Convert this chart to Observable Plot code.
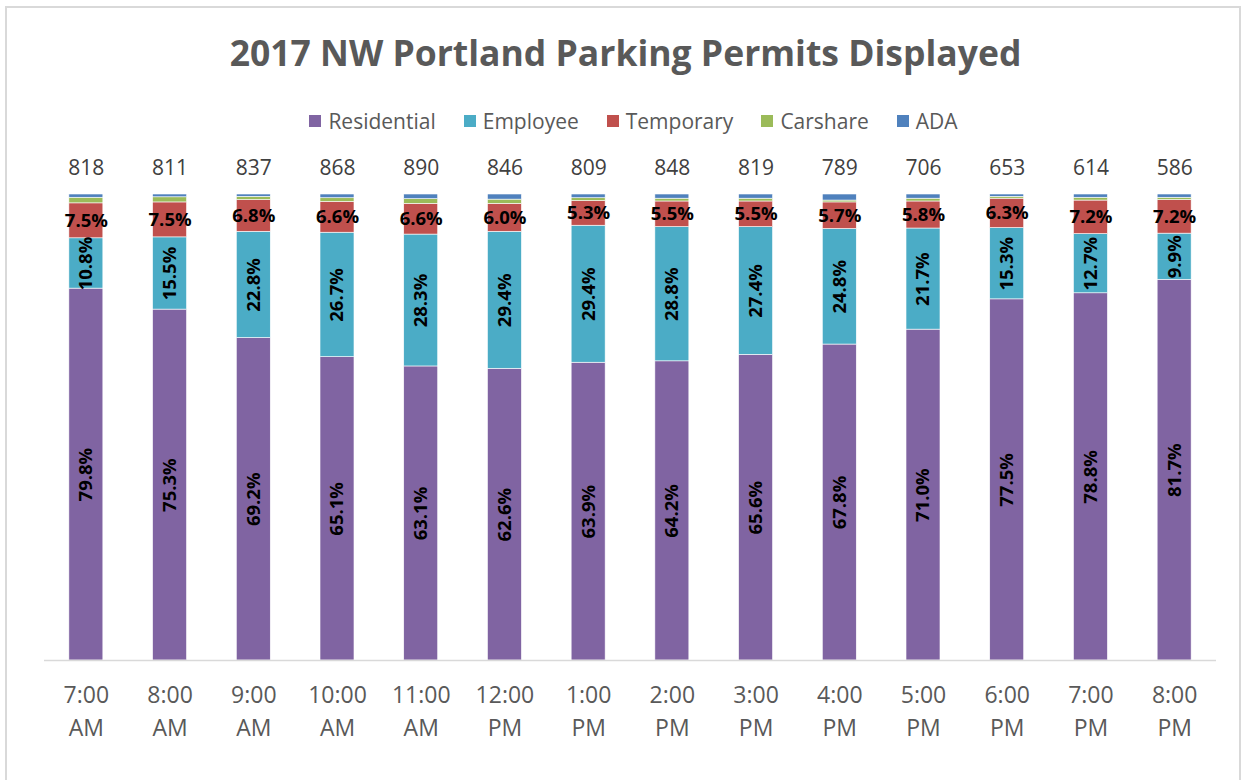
<!DOCTYPE html>
<html>
<head>
<meta charset="utf-8">
<script src="https://cdn.jsdelivr.net/npm/d3@7"></script>
<script src="https://cdn.jsdelivr.net/npm/@observablehq/plot@0.6"></script>
<style>
  html, body { margin: 0; padding: 0; background: #fff; }
  body { width: 1251px; height: 780px; position: relative; overflow: hidden; font-family: "Open Sans", sans-serif; }
  #frame { position: absolute; left: 5px; top: 6px; width: 1236px; height: 800px; border: 2px solid #d9d9d9; box-sizing: border-box; }
  #title { position: absolute; left: 0; width: 1251px; top: 27px; text-align: center; font-size: 35.5px; font-weight: 700; color: #595959; line-height: 50px; }
  #legend { position: absolute; left: 0; width: 1251px; top: 106px; display: flex; justify-content: center; font-size: 21px; color: #595959; line-height: 30px; padding-left: 16px; box-sizing: border-box; }
  .item { display: flex; align-items: center; margin: 0 14px; }
  .sw { width: 12px; height: 12px; margin-right: 7px; }
  #chart { position: absolute; left: 0; top: 140px; }
</style>
</head>
<body>
<div id="frame"></div>
<div id="title">2017 NW Portland Parking Permits Displayed</div>
<div id="legend"></div>
<div id="chart"></div>
<script>
const times = ["7:00 AM","8:00 AM","9:00 AM","10:00 AM","11:00 AM","12:00 PM","1:00 PM","2:00 PM","3:00 PM","4:00 PM","5:00 PM","6:00 PM","7:00 PM","8:00 PM"];
const totals = [818,811,837,868,890,846,809,848,819,789,706,653,614,586];
const types = ["Residential","Employee","Temporary","Carshare","ADA"];
const colors = ["#8064a2","#4bacc6","#c0504d","#9bbb59","#4f81bd"];
const residential = [79.8,75.3,69.2,65.1,63.1,62.6,63.9,64.2,65.6,67.8,71.0,77.5,78.8,81.7];
const employee    = [10.8,15.5,22.8,26.7,28.3,29.4,29.4,28.8,27.4,24.8,21.7,15.3,12.7,9.9];
const temporary   = [7.5,7.5,6.8,6.6,6.6,6.0,5.3,5.5,5.5,5.7,5.8,6.3,7.2,7.2];
const carshare    = [1.2,1.1,0.7,0.8,1.0,0.9,0.6,0.6,0.6,0.4,0.6,0.4,0.6,0.5];
const ada         = [0.7,0.6,0.5,0.8,1.0,1.1,0.8,0.9,0.9,1.3,0.9,0.5,0.7,0.7];

const series = [residential, employee, temporary, carshare, ada];
const data = [];
types.forEach((t, i) => times.forEach((time, j) => data.push({time, type: t, value: series[i][j]})));
const totalRows = times.map((time, j) => ({time, total: totals[j]}));

// legend
const legend = document.getElementById("legend");
types.forEach((t, i) => {
  const it = document.createElement("div");
  it.className = "item";
  it.innerHTML = `<span class="sw" style="background:${colors[i]}"></span><span>${t}</span>`;
  legend.appendChild(it);
});

const labeled = new Set(["Residential","Employee","Temporary"]);

const chart = Plot.plot({
  width: 1251,
  height: 640,
  marginTop: 54,
  marginBottom: 120,
  marginLeft: 44,
  marginRight: 35,
  style: {fontFamily: "Open Sans, sans-serif", background: "transparent"},
  x: {domain: times, paddingInner: 0.594, paddingOuter: 0.297, round: false, axis: null, label: null},
  y: {domain: [0, 100], axis: null},
  color: {domain: types, range: colors},
  marks: [
    Plot.barY(data, Plot.stackY({x: "time", y: "value", fill: "type", order: null, stroke: "#fff", strokeWidth: 0.6})),
    Plot.ruleY([0], {stroke: "#d9d9d9", strokeWidth: 1.5}),
    Plot.text(data, Plot.stackY({
      x: "time", y: "value", z: "type", order: null,
      text: d => labeled.has(d.type) ? d.value.toFixed(1) + "%" : null,
      rotate: d => d.type === "Temporary" ? 0 : -90,
      fill: "#000", fontWeight: 700, fontSize: 18.5
    })),
    Plot.text(totalRows, {x: "time", y: 100, text: d => String(d.total), dy: -26, fontSize: 21, fill: "#404040"}),
    Plot.axisX({tickSize: 0, tickPadding: 19, fontSize: 23, lineHeight: 1.43, color: "#595959", label: null,
      tickFormat: d => d.replace(" ", "\n")})
  ]
});
document.getElementById("chart").appendChild(chart);
</script>
</body>
</html>
